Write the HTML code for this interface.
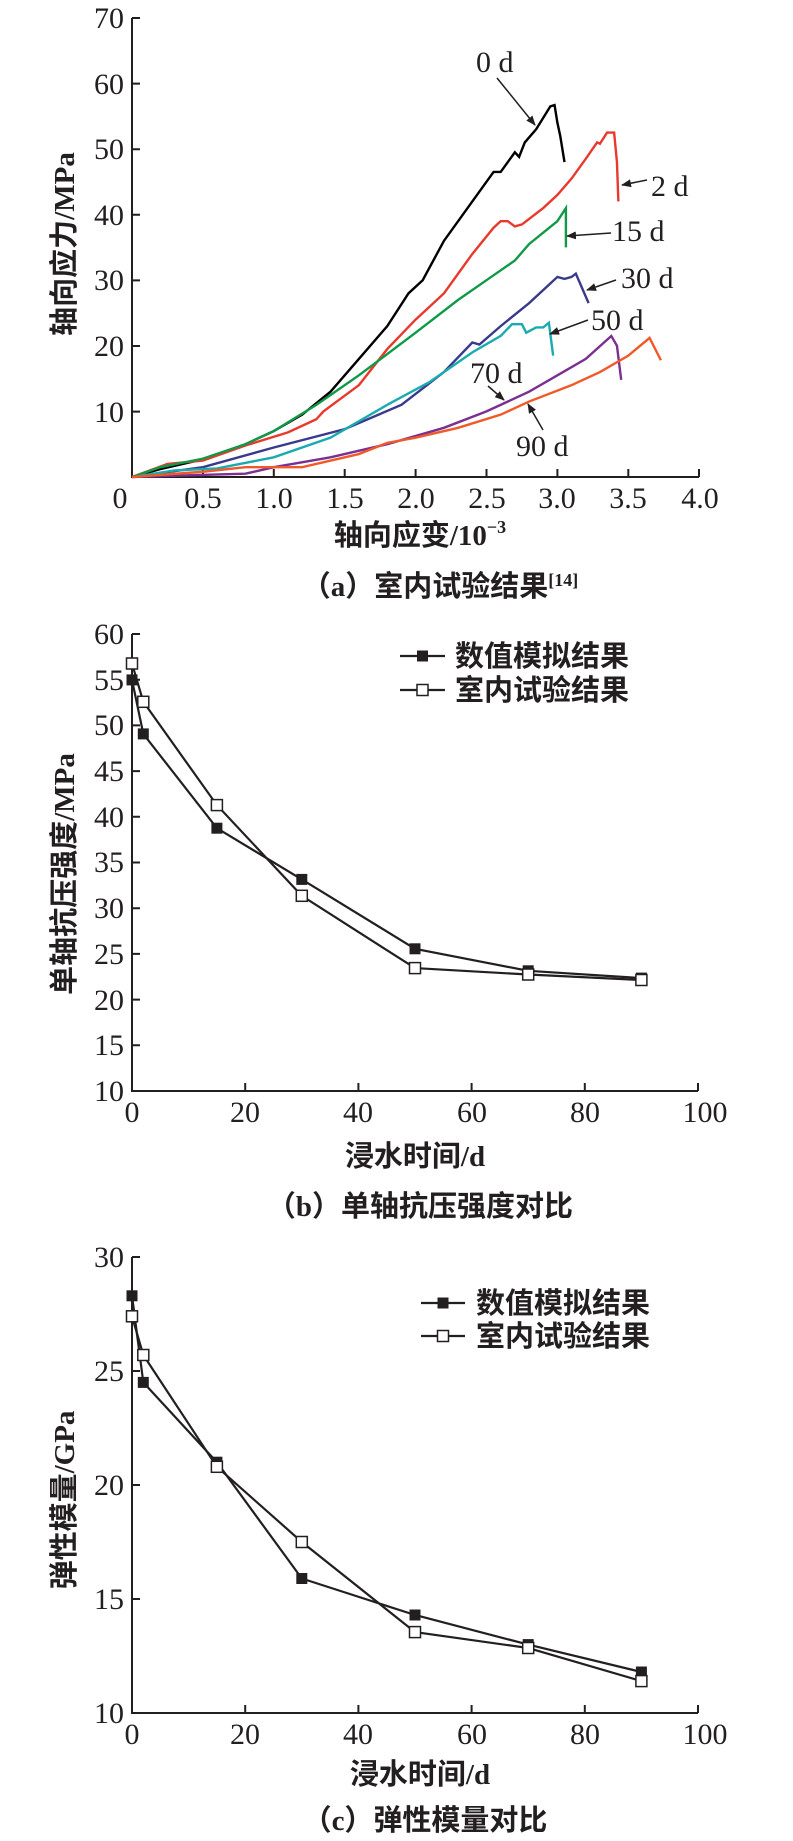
<!DOCTYPE html>
<html><head><meta charset="utf-8"><style>
body{margin:0;background:#fff}
svg{display:block}
text{font-family:"Liberation Serif","Noto Serif CJK SC",serif;fill:#231f20}
.t{font-size:30px}
.c{font-family:"Liberation Serif","Noto Sans CJK SC",sans-serif;font-size:29px;font-weight:bold}
</style></head><body>
<svg width="793" height="1841" viewBox="0 0 793 1841" xmlns="http://www.w3.org/2000/svg">
<defs><marker id="ah" markerWidth="10" markerHeight="8" refX="9" refY="4" orient="auto" markerUnits="userSpaceOnUse"><path d="M0,0 L10,4 L0,8 Z" fill="#231f20"/></marker></defs>

<!-- Chart A -->
<g stroke="#231f20" stroke-width="2" fill="none">
<path d="M132,18 V477 H699"/>
<path d="M132,18h8M132,83.6h8M132,149.2h8M132,214.8h8M132,280.4h8M132,346h8M132,411.6h8"/>
<path d="M202.9,477v-8M273.8,477v-8M344.7,477v-8M415.6,477v-8M486.5,477v-8M557.4,477v-8M628.3,477v-8M699,477v-8"/>
</g>
<g class="t" text-anchor="end">
<text x="124" y="28">70</text><text x="124" y="94">60</text><text x="124" y="159">50</text><text x="124" y="225">40</text><text x="124" y="290">30</text><text x="124" y="356">20</text><text x="124" y="422">10</text>
</g>
<g class="t" text-anchor="middle">
<text x="120" y="508">0</text><text x="203" y="508">0.5</text><text x="274" y="508">1.0</text><text x="345" y="508">1.5</text><text x="416" y="508">2.0</text><text x="487" y="508">2.5</text><text x="557" y="508">3.0</text><text x="628" y="508">3.5</text><text x="700" y="508">4.0</text>
</g>
<text class="c" x="420" y="545" text-anchor="middle">轴向应变/10<tspan font-size="18" dy="-12">−3</tspan></text>
<text class="c" x="64" y="244" text-anchor="middle" transform="rotate(-90 64 244)" dy="10">轴向应力/MPa</text>
<text class="c" x="440" y="596" text-anchor="middle">（a）室内试验结果<tspan font-size="18" dy="-10">[14]</tspan></text>

<g transform="translate(132,477) scale(141.8,-6.56)" fill="none" stroke-width="2.4">
<polyline vector-effect="non-scaling-stroke" stroke="#000" points="0,0 .2,1.2 .5,2.7 .8,5 1.0,7 1.2,9.5 1.4,13 1.6,18 1.8,23 1.95,28 2.05,30 2.2,36 2.4,42 2.55,46.5 2.6,46.5 2.7,49.5 2.73,48.8 2.77,51 2.85,53 2.95,56.5 2.98,56.7 3.0,54 3.02,52 3.05,48"/>
<polyline vector-effect="non-scaling-stroke" stroke="#e8392c" points="0,0 .25,2 .5,2.5 .8,4.8 1.1,6.8 1.3,8.8 1.35,10 1.6,14 1.8,19.5 2.0,24 2.2,28 2.4,34 2.55,38 2.6,39 2.65,39 2.7,38.2 2.75,38.5 2.9,41 3.0,43 3.1,45.5 3.2,48.5 3.28,51 3.3,50.8 3.35,52.5 3.4,52.5 3.42,48 3.43,42"/>
<polyline vector-effect="non-scaling-stroke" stroke="#109a48" points="0,0 .2,1.5 .5,2.8 .8,5 1.0,7 1.3,11 1.6,15.5 2.0,22 2.3,27 2.5,30 2.7,33 2.8,35.5 3.0,39 3.06,41 3.06,35"/>
<polyline vector-effect="non-scaling-stroke" stroke="#3a3a8c" points="0,0 .5,1.5 1.0,4.5 1.5,7.3 1.9,11 2.2,16 2.4,20.5 2.45,20.2 2.6,23 2.8,26.5 2.95,29.5 3.0,30.5 3.05,30.2 3.1,30.5 3.13,31 3.22,26.5"/>
<polyline vector-effect="non-scaling-stroke" stroke="#1aabb0" points="0,0 .3,1 .6,1.3 1.0,3 1.4,6 1.8,11 2.1,14.5 2.4,19 2.6,21.5 2.68,23.3 2.75,23.3 2.78,22 2.85,22.8 2.9,22.8 2.94,23.5 2.97,18.5"/>
<polyline vector-effect="non-scaling-stroke" stroke="#7b2f91" points="0,0 .3,0.2 .8,0.5 1.0,1.5 1.4,3 1.8,5 2.2,7.5 2.5,10 2.8,13 3.0,15.5 3.2,18 3.38,21.5 3.42,20 3.45,14.8"/>
<polyline vector-effect="non-scaling-stroke" stroke="#ef5a28" points="0,0 .5,0.8 .8,1.5 1.2,1.5 1.6,3.5 1.8,5.2 2.0,6 2.3,7.5 2.6,9.5 2.8,11.5 3.1,14 3.3,16 3.5,18.5 3.65,21.2 3.73,17.8"/>
</g>
<g stroke="#231f20" stroke-width="1.5" marker-end="url(#ah)">
<line x1="497" y1="78" x2="535" y2="125"/>
<line x1="647" y1="180" x2="622" y2="185"/>
<line x1="611" y1="233" x2="567" y2="236"/>
<line x1="616" y1="280" x2="587" y2="290"/>
<line x1="588" y1="320" x2="550" y2="334"/>
<line x1="488" y1="386" x2="504" y2="400"/>
<line x1="543" y1="430" x2="528" y2="404"/>
</g>
<g class="t">
<text x="476" y="72">0 d</text><text x="651" y="196">2 d</text><text x="612" y="241">15 d</text><text x="621" y="288">30 d</text><text x="591" y="330">50 d</text><text x="470" y="383">70 d</text><text x="516" y="456">90 d</text>
</g>

<!-- Chart B -->
<g stroke="#231f20" stroke-width="2" fill="none">
<path d="M132,634 V1091 H698"/>
<path d="M132,634h8M132,679.7h8M132,725.4h8M132,771.1h8M132,816.8h8M132,862.5h8M132,908.2h8M132,953.9h8M132,999.6h8M132,1045.3h8"/>
<path d="M245.2,1091v-8M358.4,1091v-8M471.6,1091v-8M584.8,1091v-8M698,1091v-8"/>
</g>
<g class="t" text-anchor="end">
<text x="124" y="644">60</text><text x="124" y="690">55</text><text x="124" y="735">50</text><text x="124" y="781">45</text><text x="124" y="827">40</text><text x="124" y="872">35</text><text x="124" y="918">30</text><text x="124" y="964">25</text><text x="124" y="1010">20</text><text x="124" y="1055">15</text><text x="124" y="1101">10</text>
</g>
<g class="t" text-anchor="middle">
<text x="132" y="1122">0</text><text x="245" y="1122">20</text><text x="358" y="1122">40</text><text x="472" y="1122">60</text><text x="585" y="1122">80</text><text x="705" y="1122">100</text>
</g>
<text class="c" x="415" y="1166" text-anchor="middle">浸水时间/d</text>
<text class="c" x="64" y="874" text-anchor="middle" transform="rotate(-90 64 874)" dy="10">单轴抗压强度/MPa</text>
<text class="c" x="420" y="1216" text-anchor="middle">（b）单轴抗压强度对比</text>
<g stroke="#231f20" stroke-width="2.2" fill="none">
<polyline points="132,679.9 143.3,733.9 216.9,828.2 301.8,879.4 415,948.8 528.2,970.8 641.4,978.1"/>
<polyline points="132,663.5 143.3,701.8 216.9,805.1 301.8,895.8 415,968.1 528.2,974.5 641.4,980"/>
<path d="M400,656h45M400,690h45"/>
</g>
<g fill="#231f20">
<rect x="126.5" y="674.4" width="11" height="11"/><rect x="137.8" y="728.4" width="11" height="11"/><rect x="211.4" y="822.7" width="11" height="11"/><rect x="296.3" y="873.9" width="11" height="11"/><rect x="409.5" y="943.3" width="11" height="11"/><rect x="522.7" y="965.3" width="11" height="11"/><rect x="635.9" y="972.6" width="11" height="11"/>
<rect x="417" y="650.5" width="11" height="11"/>
</g>
<g fill="#fff" stroke="#231f20" stroke-width="1.5">
<rect x="126.5" y="658" width="11" height="11"/><rect x="137.8" y="696.3" width="11" height="11"/><rect x="211.4" y="799.6" width="11" height="11"/><rect x="296.3" y="890.3" width="11" height="11"/><rect x="409.5" y="962.6" width="11" height="11"/><rect x="522.7" y="969" width="11" height="11"/><rect x="635.9" y="974.5" width="11" height="11"/>
<rect x="417" y="684.5" width="11" height="11"/>
</g>
<text class="c" x="455" y="666">数值模拟结果</text>
<text class="c" x="455" y="700">室内试验结果</text>

<!-- Chart C -->
<g stroke="#231f20" stroke-width="2" fill="none">
<path d="M132,1257 V1713 H698"/>
<path d="M132,1257h8M132,1371h8M132,1485h8M132,1599h8"/>
<path d="M245.2,1713v-8M358.4,1713v-8M471.6,1713v-8M584.8,1713v-8M698,1713v-8"/>
</g>
<g class="t" text-anchor="end">
<text x="124" y="1267">30</text><text x="124" y="1381">25</text><text x="124" y="1495">20</text><text x="124" y="1609">15</text><text x="124" y="1723">10</text>
</g>
<g class="t" text-anchor="middle">
<text x="132" y="1744">0</text><text x="245" y="1744">20</text><text x="358" y="1744">40</text><text x="472" y="1744">60</text><text x="585" y="1744">80</text><text x="705" y="1744">100</text>
</g>
<text class="c" x="420" y="1784" text-anchor="middle">浸水时间/d</text>
<text class="c" x="64" y="1500" text-anchor="middle" transform="rotate(-90 64 1500)" dy="10">弹性模量/GPa</text>
<text class="c" x="425" y="1830" text-anchor="middle">（c）弹性模量对比</text>
<g stroke="#231f20" stroke-width="2.2" fill="none">
<polyline points="132,1295.8 143.3,1382.4 216.9,1462.2 301.8,1578.5 415,1615 528.2,1644.6 641.4,1672"/>
<polyline points="132,1316.3 143.3,1355 216.9,1466.8 301.8,1542 415,1632.1 528.2,1648 641.4,1681.1"/>
<path d="M421,1303h44M421,1336h44"/>
</g>
<g fill="#231f20">
<rect x="126.5" y="1290.3" width="11" height="11"/><rect x="137.8" y="1376.9" width="11" height="11"/><rect x="211.4" y="1456.7" width="11" height="11"/><rect x="296.3" y="1573" width="11" height="11"/><rect x="409.5" y="1609.5" width="11" height="11"/><rect x="522.7" y="1639.1" width="11" height="11"/><rect x="635.9" y="1666.5" width="11" height="11"/>
<rect x="437.5" y="1297.5" width="11" height="11"/>
</g>
<g fill="#fff" stroke="#231f20" stroke-width="1.5">
<rect x="126.5" y="1310.8" width="11" height="11"/><rect x="137.8" y="1349.5" width="11" height="11"/><rect x="211.4" y="1461.3" width="11" height="11"/><rect x="296.3" y="1536.5" width="11" height="11"/><rect x="409.5" y="1626.6" width="11" height="11"/><rect x="522.7" y="1642.5" width="11" height="11"/><rect x="635.9" y="1675.6" width="11" height="11"/>
<rect x="437.5" y="1330.5" width="11" height="11"/>
</g>
<text class="c" x="476" y="1313">数值模拟结果</text>
<text class="c" x="476" y="1346">室内试验结果</text>
</svg>
</body></html>
